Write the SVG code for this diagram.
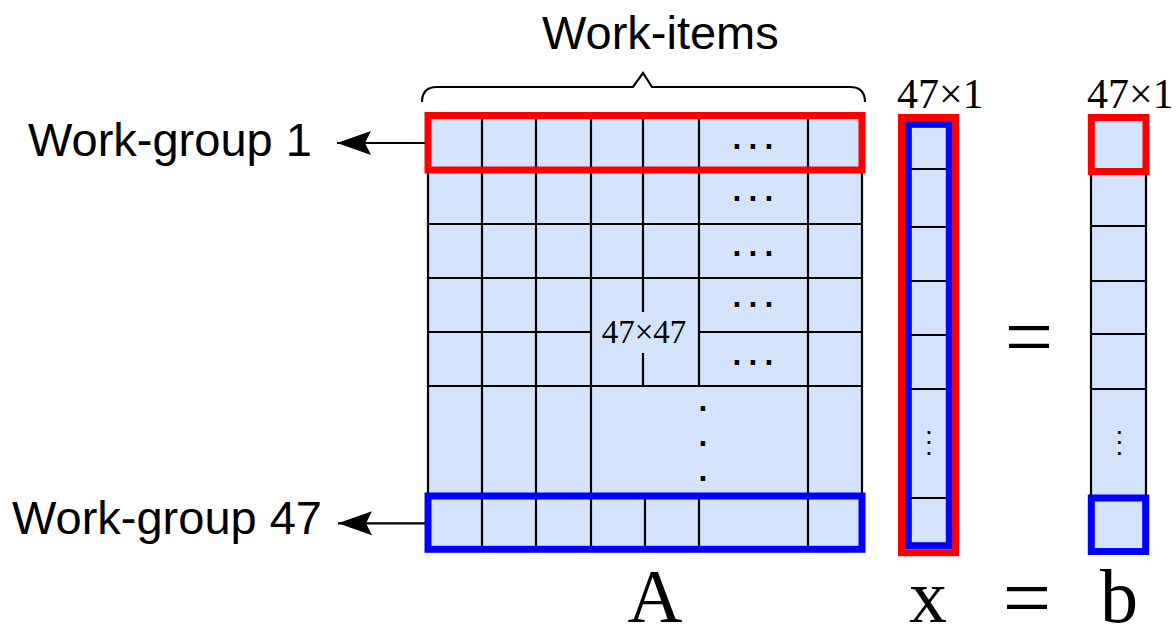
<svg xmlns="http://www.w3.org/2000/svg" width="1176" height="625" viewBox="0 0 1176 625">
<style>
.sans{font-family:"Liberation Sans",Arial,sans-serif;font-size:47px;fill:#000}
.serif{font-family:"Liberation Serif","Times New Roman",serif;fill:#000}
.cell{fill:#d4e3fc;stroke:none}
.grid{stroke:#000;stroke-width:2.2;fill:none}
.red{fill:none;stroke:#ff0000;stroke-width:7}
.blue{fill:none;stroke:#0000ff;stroke-width:7}
.dot{font-family:"Liberation Sans",Arial,sans-serif;font-size:46px;fill:#000;text-anchor:middle}
.sdot{font-family:"Liberation Sans",Arial,sans-serif;font-size:28px;fill:#000;text-anchor:middle}
.conn{stroke:#000;stroke-width:2.2;fill:none}
</style>
<defs>
<marker id="stealth" markerUnits="userSpaceOnUse" markerWidth="36" markerHeight="28" viewBox="0 -14 36 28" refX="34" refY="0" orient="auto">
<path d="M34,0 L0,-12 L6,0 L0,12 Z" fill="#000"/>
</marker>
</defs>

<g id="matrixA">
<rect class="cell" x="428" y="117" width="434" height="433"/>
<path class="grid" d="M428,117 V550 M862,117 V550 M482,117 V550 M536,117 V550 M591,117 V550 M808,117 V550 M643,117 V312 M643,353 V386 M645,496 V550 M699,117 V386 M699,496 V550 M428,171 H862 M428,224 H862 M428,278 H862 M428,332 H591 M699,332 H862 M428,386 H862 M428,496 H862 M428,550 H862 M428,117 H862"/>
<text class="serif" x="644" y="343" font-size="33" text-anchor="middle">47×47</text>
<text class="dot" x="737 753 769" y="149">...</text>
<text class="dot" x="737 753 769" y="200.5">...</text>
<text class="dot" x="737 753 769" y="255.5">...</text>
<text class="dot" x="737 753 769" y="307">...</text>
<text class="dot" x="737 753 769" y="364.5">...</text>
<text class="dot" x="703 703 703" y="410.5 445.5 481">...</text>
<rect class="red" x="428" y="115.5" width="434" height="54.5"/>
<rect class="blue" x="428" y="496" width="434" height="53.3"/>
<text class="serif" x="655" y="622" font-size="76" text-anchor="middle">A</text>
</g>

<g id="workitems">
<path class="grid" stroke-width="2.5" d="M422,102 Q422,87 437,87 L633,87 L643,73 L652,87 L850,87 Q865,87 865,102"/>
<text class="sans" x="542" y="49">Work-items</text>
</g>

<g id="wg1">
<text class="sans" x="28" y="156">Work-group 1</text>
</g>
<g id="wg47">
<text class="sans" x="12" y="534">Work-group 47</text>
</g>

<g id="vectorX">
<rect class="cell" x="905" y="121" width="48" height="428"/>
<path class="grid" d="M908,169 H950 M908,227 H950 M908,281 H950 M908,335 H950 M908,389 H950 M908,498 H950"/>
<text class="sdot" x="929 929 929" y="433.6 443.6 454.6">...</text>
<rect class="blue" stroke-width="6.5" x="908.3" y="124.3" width="41" height="421.4"/>
<rect class="red" stroke-width="6.5" x="901.5" y="117.5" width="54.2" height="435.2"/>
<text class="serif" x="897" y="108" font-size="42">47×1</text>
<text class="serif" x="928" y="622" font-size="76" text-anchor="middle">x</text>
</g>

<g id="vectorB">
<rect class="cell" x="1091" y="117" width="55" height="434"/>
<path class="grid" stroke-width="2.6" d="M1091,171 V498 M1146,171 V498"/>
<path class="grid" d="M1091,226 H1146 M1091,281 H1146 M1091,334 H1146 M1091,389 H1146"/>
<text class="sdot" x="1119.3 1119.3 1119.3" y="433.6 443.6 454.6">...</text>
<rect class="red" x="1091.3" y="117.5" width="54.7" height="54"/>
<rect class="blue" x="1091.3" y="498" width="54.4" height="53.5"/>
<text class="serif" x="1087" y="108" font-size="42">47×1</text>
<text class="serif" x="1119" y="622" font-size="76" text-anchor="middle">b</text>
</g>

<g id="equals">
<text class="serif" x="1029" y="366" font-size="86" text-anchor="middle">=</text>
<text class="serif" x="1027" y="627" font-size="86" text-anchor="middle">=</text>
</g>

<g id="connectors">
<line class="conn" x1="425" y1="143" x2="337" y2="143" marker-end="url(#stealth)"/>
<line class="conn" x1="425" y1="523.3" x2="338" y2="523.3" marker-end="url(#stealth)"/>
</g>
</svg>
